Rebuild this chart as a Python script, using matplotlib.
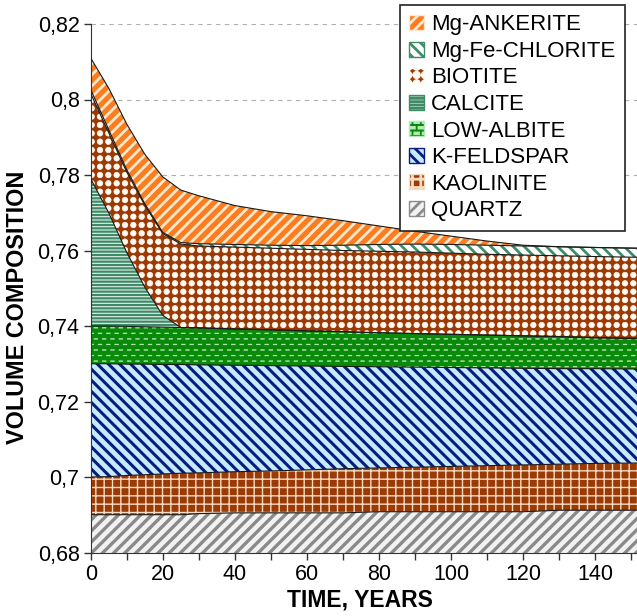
import matplotlib
matplotlib.use("Agg")
import matplotlib.pyplot as plt
import matplotlib.hatch as mhatch
from matplotlib.path import Path
from matplotlib.patches import Patch
import numpy as np

years = [0, 5, 10, 15, 20, 25, 30, 40, 50, 60, 70, 80, 90, 100, 110, 120, 130, 140, 152]

quartz = [0.690, 0.690, 0.690, 0.690, 0.690, 0.690, 0.6903, 0.6905, 0.6905, 0.6905,
          0.6905, 0.6908, 0.6908, 0.6908, 0.6908, 0.6908, 0.6912, 0.6912, 0.6912]
kaolinite = [0.0100, 0.0101, 0.0104, 0.0106, 0.0108, 0.0110, 0.0108, 0.0109, 0.0111, 0.0114,
             0.0117, 0.0116, 0.0118, 0.0120, 0.0122, 0.0124, 0.0122, 0.0124, 0.0125]
k_feldspar = [0.0300, 0.0299, 0.0295, 0.0293, 0.0290, 0.0288, 0.0286, 0.0282, 0.0279, 0.0275,
              0.0271, 0.0268, 0.0265, 0.0262, 0.0259, 0.0256, 0.0253, 0.0251, 0.0249]
low_albite = [0.0100, 0.0100, 0.0100, 0.0099, 0.0099, 0.0098, 0.0098, 0.0096, 0.0095, 0.0093,
              0.0092, 0.0090, 0.0089, 0.0088, 0.0087, 0.0086, 0.0085, 0.0082, 0.0081]
calcite = [0.0390, 0.0300, 0.0196, 0.0105, 0.0031, 0.0, 0.0, 0.0, 0.0, 0.0,
           0.0, 0.0, 0.0, 0.0, 0.0, 0.0, 0.0, 0.0, 0.0]
biotite = [0.0226, 0.0212, 0.0213, 0.0217, 0.0217, 0.0221, 0.0217, 0.0217, 0.0216, 0.0216,
           0.0215, 0.0216, 0.0216, 0.0215, 0.0214, 0.0214, 0.0214, 0.0215, 0.0215]
chlorite = [0.0010, 0.0008, 0.0006, 0.0004, 0.0003, 0.0004, 0.0006, 0.0007, 0.0008, 0.0010,
            0.0014, 0.0018, 0.0021, 0.0023, 0.0024, 0.0024, 0.0024, 0.0024, 0.0024]
ankerite = [0.0084, 0.0110, 0.0121, 0.0131, 0.0147, 0.0139, 0.0127, 0.0103, 0.0089, 0.0079,
            0.0065, 0.0049, 0.0034, 0.0022, 0.0011, 0.0002, 0.0, 0.0, 0.0]

names = ["QUARTZ", "KAOLINITE", "K-FELDSPAR", "LOW-ALBITE", "CALCITE",
         "BIOTITE", "Mg-Fe-CHLORITE", "Mg-ANKERITE"]
series = [quartz, kaolinite, k_feldspar, low_albite, calcite, biotite, chlorite, ankerite]

y_ticks = [0.68, 0.70, 0.72, 0.74, 0.76, 0.78, 0.80, 0.82]
y_tick_labels = ["0,68", "0,7", "0,72", "0,74", "0,76", "0,78", "0,8", "0,82"]
x_ticks = list(range(0, 151, 10))
x_tick_labels = [str(v) if v % 20 == 0 else "" for v in x_ticks]


# ---- custom fill patterns: square grid of large dots ('.'), staggered dashes ('o')
class GridDots(mhatch.HatchPatternBase):
    radius = 0.33

    def __init__(self, hatch, density):
        self.n = hatch.count('.') * density
        circ = Path.unit_circle()
        self.cv = circ.vertices
        self.cc = circ.codes
        self.num_vertices = (self.n + 1) ** 2 * len(self.cv) if self.n else 0

    def set_vertices_and_codes(self, vertices, codes):
        off = 1.0 / self.n
        L = len(self.cv)
        k = 0
        for i in range(self.n + 1):
            for j in range(self.n + 1):
                vertices[k:k + L] = self.cv * off * self.radius + (i * off, j * off)
                codes[k:k + L] = self.cc
                k += L


class StaggerDashes(mhatch.HatchPatternBase):
    def __init__(self, hatch, density):
        self.n = hatch.count('o') * density
        self.m = self.n * 2 // 3 if self.n else 0
        self.rect = np.array([[-0.5, -0.5], [0.5, -0.5], [0.5, 0.5], [-0.5, 0.5], [-0.5, -0.5]])
        self.rc = np.array([Path.MOVETO, Path.LINETO, Path.LINETO, Path.LINETO,
                            Path.CLOSEPOLY], dtype=Path.code_type)
        self.num_vertices = (self.n + 1) * (self.m + 1) * 5 if self.n else 0

    def set_vertices_and_codes(self, vertices, codes):
        dy = 1.0 / self.n
        dx = 1.0 / self.m
        shape = self.rect * (0.45 * dx, 0.12 * dy)
        k = 0
        for r in range(self.n + 1):
            shift = 0.5 * dx if r % 2 else 0.0
            for c in range(self.m + 1):
                vertices[k:k + 5] = shape + (c * dx + shift, r * dy)
                codes[k:k + 5] = self.rc
                k += 5


mhatch._hatch_types[:] = [t for t in mhatch._hatch_types
                          if t not in (mhatch.SmallFilledCircles, mhatch.SmallCircles)]
mhatch._hatch_types.extend([GridDots, StaggerDashes])

# style: (face, hatch colour, hatch, hatch linewidth)
styles = {
    "QUARTZ": ("#f2f2f2", "#8a8a8a", "///", 2.4),
    "KAOLINITE": ("#9c3a06", "#f3dcc4", "++", 1.0),
    "K-FELDSPAR": ("#c4ebfb", "#0a1a80", "\\\\\\", 2.2),
    "LOW-ALBITE": ("#0a8a0a", "#b4e8b4", "ooo", 0.4),
    "CALCITE": ("#e2f1e8", "#3f8a68", "-----", 1.6),
    "BIOTITE": ("#9c3a06", "#fffaf2", "..", 0.5),
    "Mg-Fe-CHLORITE": ("#ffffff", "#3d8d6a", "\\\\\\", 2.0),
    "Mg-ANKERITE": ("#fb7d1f", "#ffe8cc", "///", 2.0),
}

plt.rcParams['font.family'] = ['Liberation Sans', 'DejaVu Sans']

fig = plt.figure(figsize=(6.37, 6.16), dpi=100)
ax = fig.add_axes([90.7 / 637, 1 - 552.5 / 616, 1 - 90.7 / 637, (552.5 - 24) / 616])

x = np.array(years, dtype=float)
base = np.zeros_like(x)
tops = []
for name, vals in zip(names, series):
    top = base + np.array(vals)
    face, hc, hatch, hlw = styles[name]
    plt.rcParams['hatch.linewidth'] = hlw
    coll = ax.fill_between(x, base, top, facecolor=face, edgecolor=hc, hatch=hatch,
                           linewidth=0, zorder=2)
    if hasattr(coll, "set_hatch_linewidth"):
        coll.set_hatch_linewidth(hlw)
    tops.append(top)
    base = top

for top in tops:
    ax.plot(x, top, color="#1a1a1a", lw=0.8, zorder=3)

ax.set_xlim(0, 151.6)
ax.set_ylim(0.68, 0.82)
ax.set_yticks(y_ticks)
ax.set_yticklabels(y_tick_labels, fontsize=15.5)
ax.set_xticks(x_ticks)
ax.set_xticklabels(x_tick_labels, fontsize=15.5)
ax.tick_params(direction="out", length=5, width=1, color="#333333", pad=3)
ax.spines["top"].set_visible(False)
ax.spines["right"].set_visible(False)
ax.spines["left"].set_color("#333333")
ax.spines["bottom"].set_color("#333333")
ax.grid(axis="y", linestyle=(0, (4, 4)), color="#b0b0b0", lw=0.8, zorder=0)
ax.set_axisbelow(True)

fig.text(18 / 637, 1 - 307 / 616, "VOLUME COMPOSITION", rotation=90, ha="center",
         va="center", fontsize=16.8, fontweight="bold")
fig.text(360 / 637, 1 - 600 / 616, "TIME, YEARS", ha="center", va="center",
         fontsize=16.5, fontweight="bold")

handles = []
for name in names[::-1]:
    face, hc, hatch, hlw = styles[name]
    handles.append(Patch(facecolor=face, edgecolor=hc, hatch=hatch, label=name))
leg = fig.legend(handles=handles, loc="upper left", bbox_to_anchor=(400 / 637, 1 - 5 / 616),
                 bbox_transform=fig.transFigure, fontsize=16, frameon=True, fancybox=False,
                 edgecolor="#222222", framealpha=1, handlelength=0.65, handleheight=0.65,
                 handletextpad=0.33, labelspacing=0.25, borderpad=0.42, borderaxespad=0)
leg.get_frame().set_linewidth(1.2)

fig.savefig("out.png", dpi=100)
